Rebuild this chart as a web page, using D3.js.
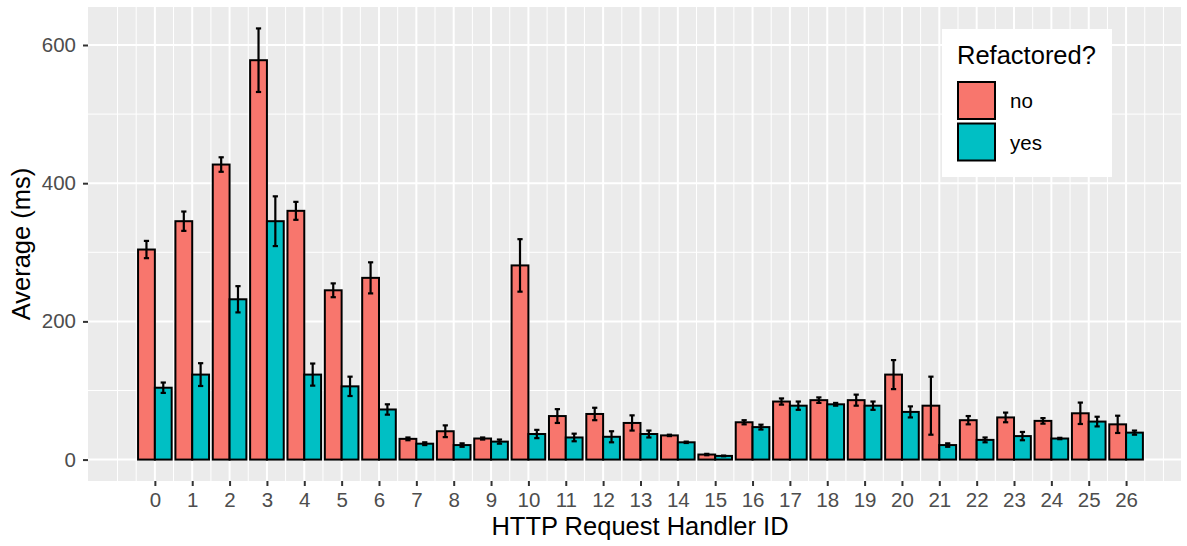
<!DOCTYPE html>
<html>
<head>
<meta charset="utf-8">
<script src="https://cdn.jsdelivr.net/npm/d3@7"></script>
<style>
  body { margin: 0; background: #fff; }
  text { font-family: "Liberation Sans", Arial, Helvetica, sans-serif; }
</style>
</head>
<body>
<script>
const handlerIds = d3.range(27);
const groups = ['no', 'yes'];
const meanNo = [304, 345, 427, 578, 360, 245, 263, 30, 41, 30.5, 281, 63, 66, 53, 35, 7.3, 54, 84, 86, 86, 123, 78, 57, 61, 56, 67, 51];
const errNo = [12.5, 14, 10.5, 46, 13, 10, 22.5, 2, 8.5, 1.5, 38, 10, 9, 11, 1, 1, 3, 4.5, 4, 8, 21, 42, 6, 7, 4, 15.5, 12.5];
const meanYes = [104, 123, 232, 345, 123, 106, 72.5, 23, 21, 26, 37, 32, 33, 37, 25, 5.3, 47, 78, 80, 78, 69, 21, 28.5, 34, 30.5, 55, 39];
const errYes = [7.5, 16.5, 19, 36, 16, 14, 7.5, 2, 2.5, 3, 6, 5.5, 8, 5, 1, 0.5, 3.5, 6, 2, 6, 8, 2.5, 3.5, 6, 1, 7, 3];
const yTicks = [0, 200, 400, 600];

function main() {
  const width = 1187;
  const height = 546;
  const panel = { left: 88, right: 1181, top: 7, bottom: 481 };

  const svg = d3.select('body').append('svg')
    .attr('width', width)
    .attr('height', height);

  const x = d3.scaleLinear().domain([-1.79, 27.47]).range([panel.left, panel.right]);
  const y = d3.scaleLinear().domain([-31, 655]).range([panel.bottom, panel.top]);
  const fill = d3.scaleOrdinal().domain(groups).range(['#F8766D', '#00BFC4']);

  const rows = [];
  handlerIds.forEach((id, i) => {
    rows.push({ id, g: 'no', mean: meanNo[i], err: errNo[i], off: -0.225 });
    rows.push({ id, g: 'yes', mean: meanYes[i], err: errYes[i], off: 0.225 });
  });

  svg.append('rect')
    .attr('x', panel.left).attr('y', panel.top)
    .attr('width', panel.right - panel.left).attr('height', panel.bottom - panel.top)
    .attr('fill', '#EBEBEB');

  // minor grid at half steps (plus one step past the end breaks), major on the breaks
  const grid = svg.append('g');
  const minorX = d3.range(-1, 27.01, 0.5).filter(v => v % 1 !== 0 || v < 0 || v > 26);
  grid.selectAll('.minor-x').data(minorX).enter().append('line')
    .attr('x1', d => x(d)).attr('x2', d => x(d))
    .attr('y1', panel.top).attr('y2', panel.bottom)
    .attr('stroke', '#fff').attr('stroke-width', 1);
  grid.selectAll('.minor-y').data([100, 300, 500]).enter().append('line')
    .attr('x1', panel.left).attr('x2', panel.right)
    .attr('y1', d => y(d)).attr('y2', d => y(d))
    .attr('stroke', '#fff').attr('stroke-width', 1);
  grid.selectAll('.major-x').data(handlerIds).enter().append('line')
    .attr('x1', d => x(d)).attr('x2', d => x(d))
    .attr('y1', panel.top).attr('y2', panel.bottom)
    .attr('stroke', '#fff').attr('stroke-width', 2);
  grid.selectAll('.major-y').data(yTicks).enter().append('line')
    .attr('x1', panel.left).attr('x2', panel.right)
    .attr('y1', d => y(d)).attr('y2', d => y(d))
    .attr('stroke', '#fff').attr('stroke-width', 2);

  svg.append('g')
    .selectAll('.bar')
    .data(rows)
    .enter()
    .append('rect')
    .attr('x', d => x(d.id + d.off - 0.225))
    .attr('width', x(0.45) - x(0))
    .attr('y', d => y(d.mean))
    .attr('height', d => y(0) - y(d.mean))
    .attr('fill', d => fill(d.g))
    .attr('stroke', '#000')
    .attr('stroke-width', 2);

  const capW = 0.07;
  const eb = svg.append('g').attr('stroke', '#000').attr('stroke-width', 2.2);
  eb.selectAll('.eb-v').data(rows).enter().append('line')
    .attr('x1', d => x(d.id + d.off)).attr('x2', d => x(d.id + d.off))
    .attr('y1', d => y(d.mean - d.err)).attr('y2', d => y(d.mean + d.err));
  eb.selectAll('.eb-top').data(rows).enter().append('line')
    .attr('x1', d => x(d.id + d.off - capW)).attr('x2', d => x(d.id + d.off + capW))
    .attr('y1', d => y(d.mean + d.err)).attr('y2', d => y(d.mean + d.err));
  eb.selectAll('.eb-bot').data(rows).enter().append('line')
    .attr('x1', d => x(d.id + d.off - capW)).attr('x2', d => x(d.id + d.off + capW))
    .attr('y1', d => y(d.mean - d.err)).attr('y2', d => y(d.mean - d.err));

  const xAxis = svg.append('g')
    .attr('transform', `translate(0,${panel.bottom})`)
    .call(d3.axisBottom(x).tickValues(handlerIds).tickSize(5).tickPadding(6).tickFormat(d3.format('d')));
  const yAxis = svg.append('g')
    .attr('transform', `translate(${panel.left},0)`)
    .call(d3.axisLeft(y).tickValues(yTicks).tickSize(5).tickPadding(7));
  [xAxis, yAxis].forEach(a => {
    a.select('.domain').remove();
    a.selectAll('.tick line').attr('stroke', '#333').attr('stroke-width', 2);
    a.selectAll('.tick text')
      .attr('fill', '#4D4D4D')
      .style('font-size', '20.5px')
      .style('font-family', '"Liberation Sans", Arial, sans-serif');
  });

  svg.append('text')
    .attr('x', 640).attr('y', 535)
    .attr('text-anchor', 'middle')
    .style('font-size', '25.5px')
    .text('HTTP Request Handler ID');
  svg.append('text')
    .attr('transform', `translate(30,${(panel.top + panel.bottom) / 2}) rotate(-90)`)
    .attr('text-anchor', 'middle')
    .style('font-size', '25.5px')
    .text('Average (ms)');

  const legend = svg.append('g').attr('transform', 'translate(942,29)');
  legend.append('rect')
    .attr('width', 170).attr('height', 148)
    .attr('fill', '#fff');
  legend.append('text')
    .attr('x', 15).attr('y', 35)
    .style('font-size', '25.5px')
    .text('Refactored?');
  const keys = legend.selectAll('.key').data(groups).enter().append('g')
    .attr('transform', (d, i) => `translate(16,${53 + i * 41.5})`);
  keys.append('rect')
    .attr('width', 37).attr('height', 37)
    .attr('fill', d => fill(d))
    .attr('stroke', '#000').attr('stroke-width', 2);
  keys.append('text')
    .attr('x', 52).attr('y', 19)
    .attr('dy', '0.35em')
    .style('font-size', '20.5px')
    .text(d => d);
}

main();
</script>
</body>
</html>
